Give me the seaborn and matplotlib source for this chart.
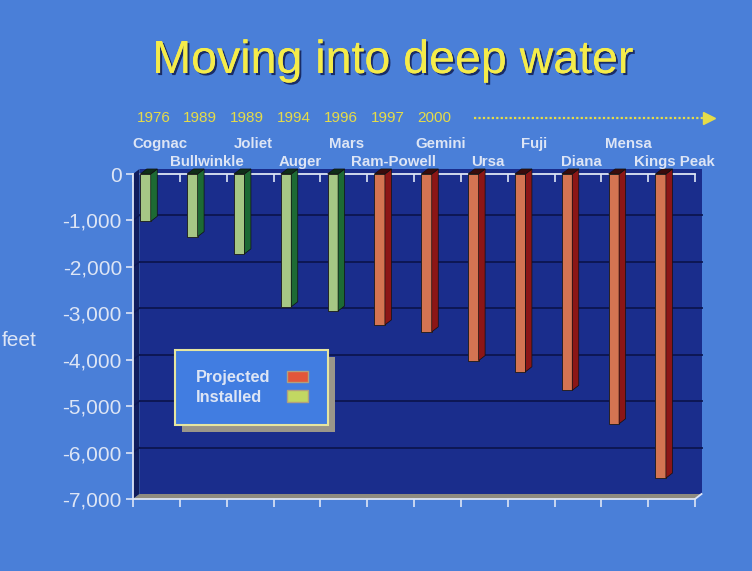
import numpy as np
import pandas as pd
import seaborn as sns
import matplotlib.pyplot as plt
from matplotlib import transforms
from matplotlib.patches import Polygon, Rectangle, Patch
from matplotlib.lines import Line2D
import matplotlib.patheffects as pe

# Verileri resimden okudum (feet)
names = ["Cognac", "Bullwinkle", "Joliet", "Auger", "Mars", "Ram-Powell",
         "Gemini", "Ursa", "Fuji", "Diana", "Mensa", "Kings Peak"]
depths = [-1020, -1350, -1720, -2860, -2950, -3250,
          -3400, -4020, -4260, -4660, -5380, -6550]
status = ["Installed", "Installed", "Installed", "Installed", "Installed", "Projected",
          "Projected", "Projected", "Projected", "Projected", "Projected", "Projected"]
years = ["1976", "1989", "1989", "1994", "1996", "1997", "2000"]
yticks = [0, -1000, -2000, -3000, -4000, -5000, -6000, -7000]

df = pd.DataFrame({"name": names, "depth": depths, "status": status})

# Renkler
SLIDE = "#4a7fd8"
NAVY = "#1a2d8c"
WALL = "#101c5c"
GRID = "#0c1550"
FLOOR = "#8f8c80"
LIGHT = "#dde5f5"
YEL = "#e6dc48"
TITLE = "#f5ec4a"
front = {"Installed": "#a6d27a", "Projected": "#ea6a3c"}
side = {"Installed": "#1d6a34", "Projected": "#8c1616"}
top = {"Installed": "#0f2e18", "Projected": "#3a0c0c"}

plt.rcParams['font.family'] = ['Liberation Sans', 'DejaVu Sans']

fig = plt.figure(figsize=(7.52, 5.71), dpi=100, facecolor=SLIDE)
ax = fig.add_axes([133 / 752, 1 - 499 / 571, 562 / 752, 325 / 571])
ax.set_facecolor("none")

BW = 0.224
sns.barplot(data=df, x="name", y="depth", hue="status", palette=front, order=names,
            width=BW, dodge=False, legend=False, edgecolor="#1a1a1a", linewidth=0.6,
            zorder=3, ax=ax)

x0, x1 = -0.267, 11.733
ax.set_xlim(x0, x1)
ax.set_ylim(-7000, 0)
DX, DY = 0.139, 108  # 3D derinlik kaydirmasi

# arka duvar, sol duvar, zemin
ax.add_patch(Rectangle((x0 + DX, -7000 + DY), x1 - x0, 7000, facecolor=NAVY,
                       edgecolor="none", zorder=0, clip_on=False))
ax.add_patch(Polygon([(x0, 0), (x0 + DX, DY), (x0 + DX, -7000 + DY), (x0, -7000)],
                     facecolor=WALL, edgecolor="none", zorder=0.5, clip_on=False))
ax.add_patch(Polygon([(x0, -7000), (x1, -7000), (x1 + DX, -7000 + DY), (x0 + DX, -7000 + DY)],
                     facecolor=FLOOR, edgecolor="none", zorder=0.5, clip_on=False))
for y in yticks[1:-1]:
    ax.plot([x0 + DX, x1 + DX], [y + DY, y + DY], color=GRID, lw=1.3, zorder=1, clip_on=False)
    ax.plot([x0, x0 + DX], [y, y + DY], color=GRID, lw=1.0, zorder=1, clip_on=False)
ax.plot([x1, x1 + DX], [-7000, -7000 + DY], color=LIGHT, lw=1.3, zorder=2, clip_on=False)

# cubuklarin yan ve ust yuzleri
for i, (v, s) in enumerate(zip(depths, status)):
    xl, xr = i - BW / 2, i + BW / 2
    ax.add_patch(Polygon([(xr, 0), (xr + DX, DY), (xr + DX, v + DY), (xr, v)],
                         facecolor=side[s], edgecolor="#111111", lw=0.5, zorder=3, clip_on=False))
    ax.add_patch(Polygon([(xl, 0), (xr, 0), (xr + DX, DY), (xl + DX, DY)],
                         facecolor=top[s], edgecolor="#111111", lw=0.5, zorder=3, clip_on=False))

# eksenler
ax.set_xlabel("")
ax.set_ylabel("")
for sp in ["left", "bottom"]:
    ax.spines[sp].set_color(LIGHT)
    ax.spines[sp].set_linewidth(1.3)
ax.spines["right"].set_visible(False)
ax.spines["top"].set_visible(False)

xt = [x0 + k for k in range(13)]
ax.set_xticks(xt)
ax.set_xticklabels([])
ax.tick_params(axis="x", bottom=True, direction="out", length=6, width=1.2, color=LIGHT)
ax.set_yticks(yticks)
ax.set_yticklabels([f"{v:,}" for v in yticks])
ax.tick_params(axis="y", direction="out", length=5, width=1.2, color=LIGHT,
               labelcolor=LIGHT, labelsize=15, pad=3)

sec = ax.secondary_xaxis("top")
sec.set_xticks(xt)
sec.set_xticklabels([])
sec.tick_params(direction="in", length=6, width=1.2, color=LIGHT)
sec.spines["top"].set_color(LIGHT)
sec.spines["top"].set_linewidth(1.3)

# isimler ve yillar
trans = transforms.blended_transform_factory(ax.transData, fig.transFigure)
for i, n in enumerate(names):
    yy = 1 - 144 / 571 if i % 2 == 0 else 1 - 162 / 571
    ax.text(i + 0.3, yy, n, transform=trans, ha="center", va="center",
            fontsize=10.8, fontweight="bold", color=LIGHT)
for i, yr in enumerate(years):
    ax.text(i + 0.17, 1 - 118 / 571, yr, transform=trans, ha="center", va="center",
            fontsize=11, color=YEL)

fig.add_artist(Line2D([474 / 752, 706 / 752], [1 - 118 / 571] * 2, transform=fig.transFigure,
                      color=YEL, lw=1.6, linestyle=(0, (1, 1))))
fig.add_artist(Line2D([709 / 752], [1 - 118 / 571], transform=fig.transFigure,
                      marker=">", ms=9, color=YEL, mec=YEL))

fig.text(393 / 752, 1 - 61 / 571, "Moving into deep water", fontsize=33.5, color=TITLE,
         ha="center", va="center",
         path_effects=[pe.withSimplePatchShadow(offset=(1.5, -1.5), shadow_rgbFace="#14235a", alpha=0.9),
                       pe.Normal()])
fig.text(0.002, 1 - 340 / 571, "feet", fontsize=15, color=LIGHT, ha="left", va="center")

# lejant
handles = [Patch(facecolor="#e2563a", edgecolor="#b0a080"),
           Patch(facecolor="#c2d862", edgecolor="#b0a080")]
leg = ax.legend(handles, ["Projected", "Installed"], loc="upper left",
                bbox_to_anchor=(175 / 752, 1 - 350 / 571), bbox_transform=fig.transFigure,
                markerfirst=False, frameon=True, fancybox=False, facecolor="#417de1",
                edgecolor="#e6e6a0", framealpha=1, borderpad=1.25, handlelength=1.25,
                handleheight=0.7, handletextpad=1.05, labelspacing=0.25, borderaxespad=0,
                prop={"weight": "bold", "size": 11.8}, labelcolor=LIGHT,
                shadow={"ox": 5, "oy": -5, "facecolor": "#9a968a", "edgecolor": "none", "alpha": 1})
leg.get_frame().set_linewidth(1.5)

# yazilari sola hizala, kutucuklar sagda ayni hizada kalsin
fig.canvas.draw()
r = fig.canvas.get_renderer()
ws = [t.get_window_extent(r).width for t in leg.get_texts()]
col = leg._legend_handle_box.get_children()[0]
col.align = "left"
for item, w in zip(col.get_children(), ws):
    item.sep += (max(ws) - w) * 72 / fig.dpi

fig.savefig("out.png", dpi=100, facecolor=SLIDE)
